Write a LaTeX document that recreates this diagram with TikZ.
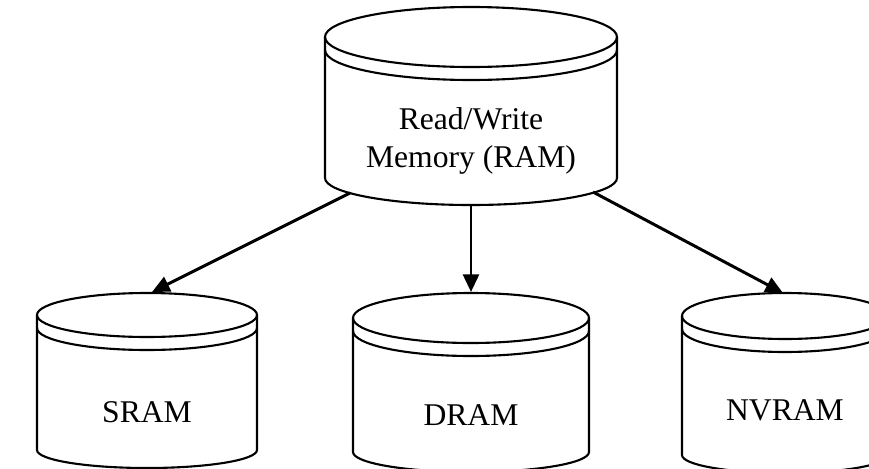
\documentclass[tikz,border=0pt]{standalone}
\usepackage{fontspec}
\setmainfont{Liberation Serif}
\usetikzlibrary{arrows.meta}

\tikzset{
  drum line/.style={line width=1.2pt},
  drum label/.style={font=\fontsize{18}{22}\selectfont, align=center},
  link/.style={draw, line width=1.7pt, -{Triangle[length=10pt,width=9pt]}}
}

% cx, cy (top centre), rx, ry, side height, bottom ry
\newcommand{\memdrum}[6]{%
  \draw[drum line] (#1,#2) ellipse [x radius=#3, y radius=#4];
  \draw[drum line] (#1-#3,#2-13) arc [start angle=180, end angle=360, x radius=#3, y radius=#4];
  \draw[drum line] (#1-#3,#2) -- (#1-#3,#2-#5)
    arc [start angle=180, end angle=360, x radius=#3, y radius=#6] -- (#1+#3,#2);
}

\begin{document}
\begin{tikzpicture}[x=0.02cm, y=0.02cm]
\clip (0,0) rectangle (869,468);

\memdrum{471}{431}{146}{30}{141}{27}
\memdrum{147}{153}{110}{22}{135}{18}
\memdrum{471}{150}{118}{25}{134}{20}
\memdrum{785}{152}{103}{23}{139}{18}

\node[drum label] (ram) at (471,327) {Read/Write\\Memory (RAM)};
\node[drum label] (sram) at (147,56) {SRAM};
\node[drum label] (dram) at (471,53) {DRAM};
\node[drum label] (nvram) at (785,58) {NVRAM};

\coordinate (ram-sw) at (350,275);
\coordinate (ram-s) at (471,263);
\coordinate (ram-se) at (593,276);
\coordinate (sram-top) at (152,176);
\coordinate (dram-top) at (471,176);
\coordinate (nvram-top) at (783,175);

\path[link] (ram-sw) -- (sram-top);
\path[link] (ram-s) -- (dram-top);
\path[link] (ram-se) -- (nvram-top);
\end{tikzpicture}
\end{document}
